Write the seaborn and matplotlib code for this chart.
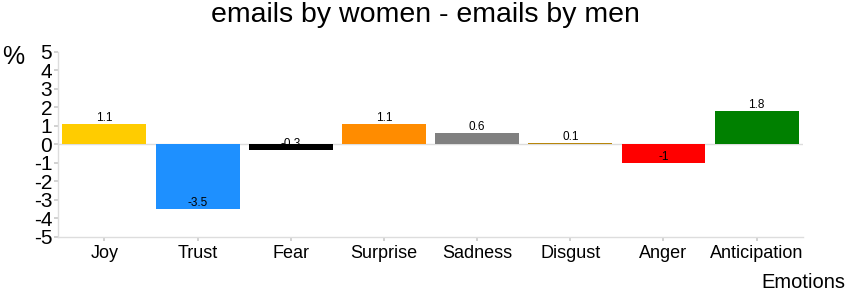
import pandas as pd
import matplotlib
matplotlib.use("Agg")
import matplotlib.pyplot as plt
import seaborn as sns

emotions = ['Joy', 'Trust', 'Fear', 'Surprise', 'Sadness', 'Disgust', 'Anger', 'Anticipation']
diff_pct = [1.1, -3.5, -0.3, 1.1, 0.6, 0.1, -1, 1.8]
bar_colors = ['#FFCC00', '#1E90FF', '#000000', '#FF8C00', '#808080', '#B8860B', '#FF0000', '#008000']
y_ticks = [-5, -4, -3, -2, -1, 0, 1, 2, 3, 4, 5]

df = pd.DataFrame({'Emotion': emotions, 'Diff': diff_pct})

sns.set_theme(style="white")
plt.rcParams['font.family'] = ['Liberation Sans', 'DejaVu Sans']
plt.rcParams['text.color'] = 'black'
plt.rcParams['xtick.labelcolor'] = 'black'
plt.rcParams['ytick.labelcolor'] = 'black'

fig, ax = plt.subplots(figsize=(8.5, 3), dpi=100)
fig.subplots_adjust(left=0.068, right=0.945, top=0.827, bottom=0.21)

# zero line behind the bars
ax.axhline(0, color='#dddddd', lw=1, zorder=0)

sns.barplot(data=df, x='Emotion', y='Diff', hue='Emotion', palette=bar_colors,
            legend=False, width=0.9, saturation=1, linewidth=0, ax=ax)

for i, v in enumerate(diff_pct):
    label = f"{v:g}"
    ax.text(i, v, label, ha='center', va='bottom', fontsize=8.5, color='black')

ax.set_xlim(-0.5, 7.5)
ax.set_ylim(-5, 5)
ax.set_yticks(y_ticks)
ax.set_yticklabels([str(t) for t in y_ticks], fontsize=15)
ax.tick_params(axis='x', labelsize=13, length=3, color='#cccccc', pad=3)
ax.tick_params(axis='y', length=3, color='#cccccc', pad=1, left=True)
ax.tick_params(axis='x', bottom=True)

for side in ['top', 'right']:
    ax.spines[side].set_visible(False)
for side in ['left', 'bottom']:
    ax.spines[side].set_color('#dddddd')
    ax.spines[side].set_linewidth(1)

ax.set_xlabel('')
ax.set_ylabel('')
fig.text(0.994, 0.025, 'Emotions', ha='right', va='bottom', fontsize=14.5)
fig.text(0.003, 0.81, '%', ha='left', va='center', fontsize=18)
fig.suptitle('emails by women - emails by men', fontsize=20.5, y=0.995)

fig.savefig('out.png', dpi=100)
